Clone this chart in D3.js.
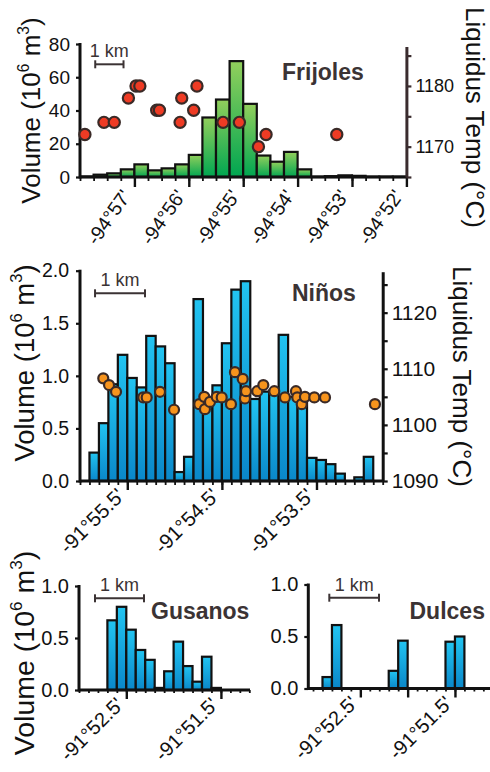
<!DOCTYPE html>
<html><head><meta charset="utf-8">
<script src="https://cdn.jsdelivr.net/npm/d3@7"></script>
<style>
body{margin:0;background:#fff}
svg{display:block}
text{font-family:"Liberation Sans",Arial,Helvetica,sans-serif}
</style>
</head><body>
<svg id="chart" width="490" height="772"></svg>
<script>
// ---------------- DATA ----------------
// Longitudes are arc-minutes west within the degree (-94° for Frijoles, -91° for the others)
const frijolesBinLeft = [58.00,57.75,57.50,57.25,57.00,56.75,56.50,56.25,56.00,55.75,55.50,55.25,55.00,54.75,54.50,54.25,54.00,53.75,53.50,53.25,53.00,52.75,52.50,52.25];
const frijolesVolume  = [0.3,1.4,2.2,4.6,7.6,4.0,5.2,7.6,13.3,35.8,46.6,69.7,44.0,12.9,9.2,15.1,4.6,0.2,0.5,1.0,0.7,0.2,0.2,0.2];
const frijolesBinWidth = 0.25;
const frijolesSampleLon  = [57.91,57.56,57.37,57.11,56.97,56.90,56.59,56.54,56.16,56.13,55.91,55.85,55.37,55.07,54.72,54.58,53.28];
const frijolesSampleTemp = [1172,1174,1174,1178,1180,1180,1176,1176,1174,1178,1176,1180,1174,1174,1170,1172,1172];
const frijolesXTicks = [57,56,55,54,53,52];
const frijolesYTicks = [0,20,40,60,80];
const frijolesTTicks = [1165,1170,1175,1180,1185];
const frijolesTLabels = [1170,1180];
const frijolesKmBar = [57.72,57.20];

const ninosBinLeft = [56.0,55.9,55.8,55.7,55.6,55.5,55.4,55.3,55.2,55.1,55.0,54.9,54.8,54.7,54.6,54.5,54.4,54.3,54.2,54.1,54.0,53.9,53.8,53.7,53.6,53.5,53.4,53.3,53.2,53.1,53.0,52.9];
const ninosVolume  = [0,0.27,0.55,0.92,1.20,0.98,0.89,1.38,1.28,1.12,0.085,0.23,1.73,0.79,0.91,1.31,1.82,1.90,0.78,0.85,0.86,1.39,0.80,0.75,0.22,0.20,0.16,0.07,0,0.035,0.23,0];
const ninosBinWidth = 0.1;
const ninosSampleLon  = [55.754,55.693,55.619,55.331,55.295,55.154,55.006,54.739,54.686,54.679,54.626,54.555,54.502,54.404,54.362,54.280,54.256,54.245,54.126,54.062,53.946,53.833,53.717,53.703,53.656,53.622,53.523,53.410,52.882];
const ninosSampleTemp = [1108.3,1107.1,1105.9,1104.9,1104.9,1105.9,1102.7,1103.7,1105.0,1102.8,1104.1,1105.0,1104.9,1103.7,1109.4,1108.2,1104.7,1106.0,1106.0,1107.1,1106.0,1104.9,1106.0,1104.9,1103.7,1105.0,1104.9,1104.9,1103.7];
const ninosXTicks = [55.5,54.5,53.5];
const ninosYTicks = [0,0.5,1.0,1.5,2.0];
const ninosTTicks = [1090,1095,1100,1105,1110,1115,1120,1125];
const ninosTLabels = [1090,1100,1110,1120];
const ninosKmBar = [55.841,55.313];

const gusanosBinLeft = [52.7,52.6,52.5,52.4,52.3,52.2,52.1,52.0,51.9,51.8,51.7,51.6];
const gusanosVolume  = [0.67,0.80,0.58,0.385,0.29,0.02,0.18,0.465,0.23,0.08,0.32,0.02];
const gusanosBinWidth = 0.1;
const gusanosXTicks = [52.5,51.5];
const gusanosYTicks = [0,0.5,1.0];
const gusanosKmBar = [52.831,52.313];

const dulcesBinLeft = [52.9,52.8,52.2,52.1,51.6,51.5];
const dulcesVolume  = [0.11,0.61,0.17,0.46,0.45,0.50];
const dulcesBinWidth = 0.1;
const dulcesXTicks = [52.5,52.0,51.5];
const dulcesXLabels = [52.5,51.5];
const dulcesYTicks = [0,0.5,1.0];
const dulcesKmBar = [52.828,52.303];

// ---------------- DRAW ----------------
const FAMILY = '"Liberation Sans",Arial,Helvetica,sans-serif';
const svg = d3.select("#chart");
const defs = svg.append("defs");
function gradient(id, c0, c1){
  const g = defs.append("linearGradient").attr("id", id).attr("x1",0).attr("y1",0).attr("x2",0).attr("y2",1);
  g.append("stop").attr("offset","0%").attr("stop-color", c0);
  g.append("stop").attr("offset","100%").attr("stop-color", c1);
}
gradient("gGreen", "#92cf5c", "#00a651");
gradient("gBlue", "#22c4f1", "#0a87c9");

const INK = "#3b3334";

function volumeTitle(g, x, y, size){
  const t = g.append("text").attr("transform", `translate(${x},${y}) rotate(-90)`)
    .attr("text-anchor","middle").attr("font-size", size).attr("fill","#111");
  t.append("tspan").text("Volume (10");
  t.append("tspan").text("6").attr("font-size", size*0.6).attr("dy", -size*0.42);
  t.append("tspan").text(" m").attr("dy", size*0.42);
  t.append("tspan").text("3").attr("font-size", size*0.6).attr("dy", -size*0.42);
  t.append("tspan").text(")").attr("dy", size*0.42);
}

function panel(o){
  const g = svg.append("g");
  const x = d3.scaleLinear().domain(o.xDomain).range([o.left, o.right]);
  const y = d3.scaleLinear().domain(o.yDomain).range([o.bottom, o.top]);

  // bars
  g.append("g").selectAll("rect")
    .data(o.binLeft.map((b,i)=>({b, v:o.volume[i]})))
    .join("rect")
    .attr("x", d=>x(d.b))
    .attr("width", d=>x(d.b - o.binWidth) - x(d.b))
    .attr("y", d=>y(d.v))
    .attr("height", d=>y(0)-y(d.v))
    .attr("fill", `url(#${o.grad})`)
    .attr("stroke", "#111").attr("stroke-width", 2.2);

  // x axis : minor ticks
  const minor = d3.range(Math.round(o.minorFrom/o.minorStep), Math.round(o.minorTo/o.minorStep)+1).map(k=>k*o.minorStep);
  const ax = g.append("g").attr("transform", `translate(0,${o.bottom})`);
  ax.append("g").call(d3.axisBottom(x).tickValues(minor).tickSize(o.minorLen).tickSizeOuter(0).tickFormat(""))
    .call(s=>s.select(".domain").remove())
    .call(s=>s.selectAll(".tick text").remove())
    .call(s=>s.selectAll(".tick line").attr("stroke","#111").attr("stroke-width",1.8));
  const major = ax.append("g").call(d3.axisBottom(x).tickValues(o.xTicks).tickSize(o.majorLen).tickSizeOuter(0)
      .tickFormat(o.xFmt));
  major.select(".domain").attr("stroke","#111").attr("stroke-width",3).attr("d", `M${o.left},0H${o.xAxisEnd}`);
  major.selectAll(".tick line").attr("stroke","#111").attr("stroke-width",2.4);
  major.selectAll(".tick text")
    .filter(d => o.xLabels && !o.xLabels.includes(d)).remove();
  major.selectAll(".tick text").attr("x",null).attr("y",null).attr("dy",null)
    .attr("transform", `translate(${o.lblDx},${o.lblDy}) rotate(${o.lblRot})`)
    .attr("text-anchor","end").attr("font-size", o.xFont).attr("fill","#111")
    .attr("font-family", FAMILY);

  // y axis left
  const ay = g.append("g").attr("transform", `translate(${o.left},0)`)
    .call(d3.axisLeft(y).tickValues(o.yTicks).tickSize(4).tickSizeOuter(0).tickPadding(o.yPad).tickFormat(o.yFmt));
  ay.select(".domain").attr("stroke","#111").attr("stroke-width",3).attr("d", `M0,${o.bottom+1.5}V${o.top-1}`);
  ay.selectAll(".tick line").attr("stroke","#111").attr("stroke-width",2.2);
  ay.selectAll(".tick text").attr("font-size", o.yFont).attr("fill","#111").attr("font-family", FAMILY);

  // right temperature axis + samples
  if (o.tDomain){
    const t = d3.scaleLinear().domain(o.tDomain).range(o.tRange);
    const ar = g.append("g").attr("transform", `translate(${o.right},0)`)
      .call(d3.axisRight(t).tickValues(o.tTicks).tickSize(5).tickSizeOuter(0).tickPadding(o.tPad)
        .tickFormat(d3.format("d")));
    ar.select(".domain").attr("stroke", o.tAxisColor).attr("stroke-width",3);
    ar.selectAll(".tick line").attr("stroke", o.tAxisColor).attr("stroke-width",2.2);
    ar.selectAll(".tick text").filter(d => !o.tLabels.includes(d)).remove();
    ar.selectAll(".tick text").attr("font-size", o.tFont).attr("fill","#111").attr("font-family", FAMILY);

    g.append("g").selectAll("circle")
      .data(o.sLon.map((l,i)=>({l, tp:o.sTemp[i]})))
      .join("circle")
      .attr("cx", d=>x(d.l)).attr("cy", d=>t(d.tp)).attr("r", o.r)
      .attr("fill", o.dotFill).attr("stroke", "#3a2a27").attr("stroke-width", 2.2);

    g.append("text").attr("transform", `translate(${o.tTitleX},${o.tTitleY}) rotate(90)`)
      .attr("font-size", o.tTitleFont).attr("fill","#111").text("Liquidus Temp (°C)");
  }

  // left title
  if (o.vTitleFont) volumeTitle(g, o.vTitleX, o.vTitleY, o.vTitleFont);

  // scale bar
  const kb = g.append("g").attr("stroke", INK).attr("stroke-width", 2);
  const x0 = x(o.km[0]), x1 = x(o.km[1]);
  kb.append("line").attr("x1",x0).attr("x2",x1).attr("y1",o.kmY).attr("y2",o.kmY);
  kb.append("line").attr("x1",x0).attr("x2",x0).attr("y1",o.kmY-4).attr("y2",o.kmY+4);
  kb.append("line").attr("x1",x1).attr("x2",x1).attr("y1",o.kmY-4).attr("y2",o.kmY+4);
  g.append("text").attr("x",(x0+x1)/2).attr("y",o.kmY-7).attr("text-anchor","middle")
    .attr("font-size",18).attr("fill",INK).text("1 km");

  // name
  g.append("text").attr("x", o.nameX).attr("y", o.nameY).attr("font-size", 23).attr("font-weight","bold")
    .attr("fill", INK).text(o.name);
}

const fmt94 = d => `-94°${d}'`;
const fmt91 = d => `-91°${d.toFixed(1)}'`;

panel({
  name:"Frijoles", nameX:282, nameY:80,
  binLeft:frijolesBinLeft, volume:frijolesVolume, binWidth:frijolesBinWidth, grad:"gGreen",
  xDomain:[58,52], left:80, right:406.4, xAxisEnd:406.4,
  yDomain:[0,80], bottom:177, top:44, yTicks:frijolesYTicks, yFmt:d=>d, yFont:19, yPad:6,
  minorFrom:52, minorTo:58, minorStep:0.25, minorLen:4, majorLen:10,
  xTicks:frijolesXTicks, xFmt:fmt94, xFont:19.5, lblDx:-3, lblDy:19, lblRot:-55,
  tDomain:[1165,1186.5], tRange:[177,46.5], tTicks:frijolesTTicks, tLabels:frijolesTLabels,
  tFont:18, tPad:4, tAxisColor:"#3a2c2e",
  sLon:frijolesSampleLon, sTemp:frijolesSampleTemp, r:5.6, dotFill:"#ef3b24",
  tTitleX:466, tTitleY:7, tTitleFont:26,
  vTitleX:39.5, vTitleY:110.5, vTitleFont:26,
  km:frijolesKmBar, kmY:64.3
});

panel({
  name:"Niños", nameX:292, nameY:300.7,
  binLeft:ninosBinLeft, volume:ninosVolume, binWidth:ninosBinWidth, grad:"gBlue",
  xDomain:[56.0,52.8], left:80, right:382.7, xAxisEnd:382.7,
  yDomain:[0,2], bottom:481, top:270.7, yTicks:ninosYTicks, yFmt:d3.format(".1f"), yFont:19.5, yPad:7,
  minorFrom:52.8, minorTo:56.0, minorStep:0.1, minorLen:4, majorLen:9,
  xTicks:ninosXTicks, xFmt:fmt91, xFont:20.5, lblDx:-2, lblDy:16, lblRot:-45,
  tDomain:[1090,1127.3], tRange:[481,271.7], tTicks:ninosTTicks, tLabels:ninosTLabels,
  tFont:21, tPad:4, tAxisColor:"#111",
  sLon:ninosSampleLon, sTemp:ninosSampleTemp, r:5, dotFill:"#f7941d",
  tTitleX:453, tTitleY:266, tTitleFont:26,
  vTitleX:33.5, vTitleY:363, vTitleFont:27.5,
  km:ninosKmBar, kmY:293.3
});

panel({
  name:"Gusanos", nameX:151, nameY:619.3,
  binLeft:gusanosBinLeft, volume:gusanosVolume, binWidth:gusanosBinWidth, grad:"gBlue",
  xDomain:[53.0,51.2], left:79, right:249.3, xAxisEnd:250,
  yDomain:[0,1], bottom:690, top:586, yTicks:gusanosYTicks, yFmt:d3.format(".1f"), yFont:20, yPad:6,
  minorFrom:51.2, minorTo:53.0, minorStep:0.1, minorLen:3, majorLen:9,
  xTicks:gusanosXTicks, xFmt:fmt91, xFont:20, lblDx:-2, lblDy:16, lblRot:-45,
  vTitleX:33.5, vTitleY:653, vTitleFont:28.5,
  km:gusanosKmBar, kmY:598.3
});

panel({
  name:"Dulces", nameX:409.5, nameY:619.3,
  binLeft:dulcesBinLeft, volume:dulcesVolume, binWidth:dulcesBinWidth, grad:"gBlue",
  xDomain:[53.05,51.1], left:308.3, right:492.8, xAxisEnd:492.8,
  yDomain:[0,1], bottom:688.5, top:584.5, yTicks:dulcesYTicks, yFmt:d3.format(".1f"), yFont:20, yPad:6,
  minorFrom:51.1, minorTo:53.0, minorStep:0.1, minorLen:3, majorLen:9,
  xTicks:dulcesXTicks, xLabels:dulcesXLabels, xFmt:fmt91, xFont:20, lblDx:-2, lblDy:16, lblRot:-45,
  vTitleFont:0,
  km:dulcesKmBar, kmY:597.7
});
</script>
</body></html>
